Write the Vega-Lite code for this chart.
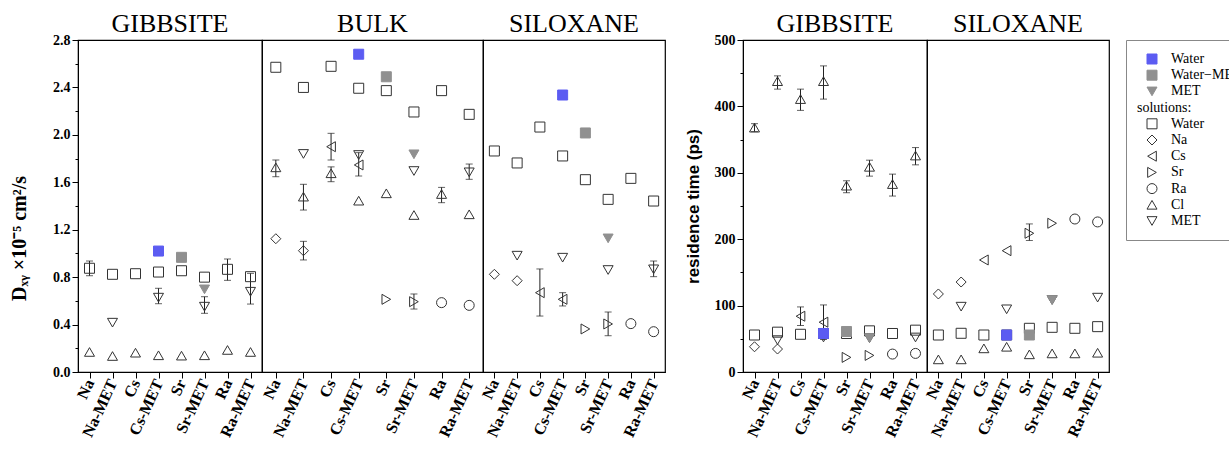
{
"$schema":"https://vega.github.io/schema/vega-lite/v6.json",
"padding":{"left":8,"top":10,"right":5,"bottom":5},
"datasets":{"pts":[
{"p":"LG","x":"Na","s":"Water","y":0.875,"lo":0.812,"hi":0.936},
{"p":"LG","x":"Na-MET","s":"Water","y":0.824},
{"p":"LG","x":"Cs","s":"Water","y":0.829},
{"p":"LG","x":"Cs-MET","s":"Water","y":0.843},
{"p":"LG","x":"Sr","s":"Water","y":0.854},
{"p":"LG","x":"Sr-MET","s":"Water","y":0.80},
{"p":"LG","x":"Ra","s":"Water","y":0.866,"lo":0.773,"hi":0.953},
{"p":"LG","x":"Ra-MET","s":"Water","y":0.804},
{"p":"LG","x":"Na-MET","s":"MET","y":0.416},
{"p":"LG","x":"Cs-MET","s":"MET","y":0.627,"lo":0.576,"hi":0.706},
{"p":"LG","x":"Sr-MET","s":"MET","y":0.551,"lo":0.495,"hi":0.635},
{"p":"LG","x":"Ra-MET","s":"MET","y":0.677,"lo":0.573,"hi":0.832},
{"p":"LG","x":"Na","s":"Cl","y":0.169},
{"p":"LG","x":"Na-MET","s":"Cl","y":0.135},
{"p":"LG","x":"Cs","s":"Cl","y":0.163},
{"p":"LG","x":"Cs-MET","s":"Cl","y":0.141},
{"p":"LG","x":"Sr","s":"Cl","y":0.138},
{"p":"LG","x":"Sr-MET","s":"Cl","y":0.141},
{"p":"LG","x":"Ra","s":"Cl","y":0.186},
{"p":"LG","x":"Ra-MET","s":"Cl","y":0.169},
{"p":"LB","x":"Na","s":"Water","y":2.57},
{"p":"LB","x":"Na-MET","s":"Water","y":2.40},
{"p":"LB","x":"Cs","s":"Water","y":2.578},
{"p":"LB","x":"Cs-MET","s":"Water","y":2.393},
{"p":"LB","x":"Sr","s":"Water","y":2.373},
{"p":"LB","x":"Sr-MET","s":"Water","y":2.193},
{"p":"LB","x":"Ra","s":"Water","y":2.373},
{"p":"LB","x":"Ra-MET","s":"Water","y":2.173},
{"p":"LB","x":"Na","s":"Na","y":1.124},
{"p":"LB","x":"Na-MET","s":"Na","y":1.023,"lo":0.945,"hi":1.102},
{"p":"LB","x":"Cs","s":"Cs","y":1.90,"lo":1.788,"hi":2.013},
{"p":"LB","x":"Cs-MET","s":"Cs","y":1.746,"lo":1.653,"hi":1.85},
{"p":"LB","x":"Sr","s":"Sr","y":0.613},
{"p":"LB","x":"Sr-MET","s":"Sr","y":0.593,"lo":0.531,"hi":0.658},
{"p":"LB","x":"Ra","s":"Ra","y":0.585},
{"p":"LB","x":"Ra-MET","s":"Ra","y":0.562},
{"p":"LB","x":"Na","s":"Cl","y":1.726,"lo":1.647,"hi":1.788},
{"p":"LB","x":"Na-MET","s":"Cl","y":1.479,"lo":1.366,"hi":1.583},
{"p":"LB","x":"Cs","s":"Cl","y":1.676,"lo":1.605,"hi":1.73},
{"p":"LB","x":"Cs-MET","s":"Cl","y":1.445},
{"p":"LB","x":"Sr","s":"Cl","y":1.507},
{"p":"LB","x":"Sr-MET","s":"Cl","y":1.324},
{"p":"LB","x":"Ra","s":"Cl","y":1.501,"lo":1.428,"hi":1.557},
{"p":"LB","x":"Ra-MET","s":"Cl","y":1.33},
{"p":"LB","x":"Na-MET","s":"MET","y":1.839},
{"p":"LB","x":"Cs-MET","s":"MET","y":1.83},
{"p":"LB","x":"Sr-MET","s":"MET","y":1.695},
{"p":"LB","x":"Ra-MET","s":"MET","y":1.684,"lo":1.625,"hi":1.754},
{"p":"LS","x":"Na","s":"Water","y":1.864},
{"p":"LS","x":"Na-MET","s":"Water","y":1.763},
{"p":"LS","x":"Cs","s":"Water","y":2.066},
{"p":"LS","x":"Cs-MET","s":"Water","y":1.822},
{"p":"LS","x":"Sr","s":"Water","y":1.622},
{"p":"LS","x":"Sr-MET","s":"Water","y":1.456},
{"p":"LS","x":"Ra","s":"Water","y":1.633},
{"p":"LS","x":"Ra-MET","s":"Water","y":1.442},
{"p":"LS","x":"Na","s":"Na","y":0.824},
{"p":"LS","x":"Na-MET","s":"Na","y":0.77},
{"p":"LS","x":"Cs","s":"Cs","y":0.669,"lo":0.472,"hi":0.869},
{"p":"LS","x":"Cs-MET","s":"Cs","y":0.613,"lo":0.557,"hi":0.669},
{"p":"LS","x":"Sr","s":"Sr","y":0.363},
{"p":"LS","x":"Sr-MET","s":"Sr","y":0.405,"lo":0.306,"hi":0.506},
{"p":"LS","x":"Ra","s":"Ra","y":0.408},
{"p":"LS","x":"Ra-MET","s":"Ra","y":0.34},
{"p":"LS","x":"Na-MET","s":"MET","y":0.981},
{"p":"LS","x":"Cs-MET","s":"MET","y":0.964},
{"p":"LS","x":"Sr-MET","s":"MET","y":0.86},
{"p":"LS","x":"Ra-MET","s":"MET","y":0.866,"lo":0.804,"hi":0.936},
{"p":"RG","x":"Na","s":"Cl","y":368,"lo":362,"hi":374},
{"p":"RG","x":"Na-MET","s":"Cl","y":438,"lo":426,"hi":446},
{"p":"RG","x":"Cs","s":"Cl","y":411,"lo":394,"hi":426},
{"p":"RG","x":"Cs-MET","s":"Cl","y":438,"lo":411,"hi":461},
{"p":"RG","x":"Sr","s":"Cl","y":280.6,"lo":270,"hi":288},
{"p":"RG","x":"Sr-MET","s":"Cl","y":309,"lo":295,"hi":319},
{"p":"RG","x":"Ra","s":"Cl","y":283,"lo":265,"hi":298},
{"p":"RG","x":"Ra-MET","s":"Cl","y":326,"lo":312,"hi":338},
{"p":"RG","x":"Na","s":"Water","y":55.7},
{"p":"RG","x":"Na-MET","s":"Water","y":60},
{"p":"RG","x":"Cs","s":"Water","y":56.8},
{"p":"RG","x":"Cs-MET","s":"Water","y":58},
{"p":"RG","x":"Sr","s":"Water","y":58},
{"p":"RG","x":"Sr-MET","s":"Water","y":62},
{"p":"RG","x":"Ra","s":"Water","y":58},
{"p":"RG","x":"Ra-MET","s":"Water","y":63},
{"p":"RG","x":"Na","s":"Na","y":38},
{"p":"RG","x":"Na-MET","s":"Na","y":34.6},
{"p":"RG","x":"Cs","s":"Cs","y":84,"lo":70,"hi":98},
{"p":"RG","x":"Cs-MET","s":"Cs","y":75,"lo":49,"hi":101},
{"p":"RG","x":"Sr","s":"Sr","y":22},
{"p":"RG","x":"Sr-MET","s":"Sr","y":25},
{"p":"RG","x":"Ra","s":"Ra","y":27},
{"p":"RG","x":"Ra-MET","s":"Ra","y":28},
{"p":"RG","x":"Na-MET","s":"MET","y":48},
{"p":"RG","x":"Cs-MET","s":"MET","y":52},
{"p":"RG","x":"Sr-MET","s":"MET","y":51},
{"p":"RG","x":"Ra-MET","s":"MET","y":52},
{"p":"RS","x":"Na","s":"Water","y":55.7},
{"p":"RS","x":"Na-MET","s":"Water","y":58.3},
{"p":"RS","x":"Cs","s":"Water","y":55.7},
{"p":"RS","x":"Cs-MET","s":"Water","y":55.7},
{"p":"RS","x":"Sr","s":"Water","y":65.8},
{"p":"RS","x":"Sr-MET","s":"Water","y":67.3},
{"p":"RS","x":"Ra","s":"Water","y":65.8},
{"p":"RS","x":"Ra-MET","s":"Water","y":68.3},
{"p":"RS","x":"Na","s":"Na","y":117.5},
{"p":"RS","x":"Na-MET","s":"Na","y":135.5},
{"p":"RS","x":"Cs","s":"Cs","y":168.7},
{"p":"RS","x":"Cs-MET","s":"Cs","y":182.7},
{"p":"RS","x":"Sr","s":"Sr","y":208.9,"lo":198,"hi":223},
{"p":"RS","x":"Sr-MET","s":"Sr","y":224},
{"p":"RS","x":"Ra","s":"Ra","y":230.4},
{"p":"RS","x":"Ra-MET","s":"Ra","y":226},
{"p":"RS","x":"Na","s":"Cl","y":19},
{"p":"RS","x":"Na-MET","s":"Cl","y":19},
{"p":"RS","x":"Cs","s":"Cl","y":35.6},
{"p":"RS","x":"Cs-MET","s":"Cl","y":38},
{"p":"RS","x":"Sr","s":"Cl","y":26.6},
{"p":"RS","x":"Sr-MET","s":"Cl","y":28},
{"p":"RS","x":"Ra","s":"Cl","y":28},
{"p":"RS","x":"Ra-MET","s":"Cl","y":29},
{"p":"RS","x":"Na-MET","s":"MET","y":98.4},
{"p":"RS","x":"Cs-MET","s":"MET","y":94.4},
{"p":"RS","x":"Sr-MET","s":"MET","y":108.4},
{"p":"RS","x":"Ra-MET","s":"MET","y":112},
{"p":"LG","x":"Cs-MET","s":"pWater","y":1.02},
{"p":"LG","x":"Sr","s":"pWaterMET","y":0.967},
{"p":"LG","x":"Sr-MET","s":"pMET","y":0.697},
{"p":"LB","x":"Cs-MET","s":"pWater","y":2.68},
{"p":"LB","x":"Sr","s":"pWaterMET","y":2.49},
{"p":"LB","x":"Sr-MET","s":"pMET","y":1.836},
{"p":"LS","x":"Cs-MET","s":"pWater","y":2.336},
{"p":"LS","x":"Sr","s":"pWaterMET","y":2.016},
{"p":"LS","x":"Sr-MET","s":"pMET","y":1.127},
{"p":"RG","x":"Cs-MET","s":"pWater","y":58},
{"p":"RG","x":"Sr","s":"pWaterMET","y":61},
{"p":"RG","x":"Sr-MET","s":"pMET","y":51},
{"p":"RS","x":"Cs-MET","s":"pWater","y":55.7},
{"p":"RS","x":"Sr","s":"pWaterMET","y":55.7},
{"p":"RS","x":"Sr-MET","s":"pMET","y":108.4}
]},
"spacing":17,
"hconcat":[
{"spacing":0,"bounds":"flush","hconcat":[
{"width":184,"height":332,"title":{"text":"GIBBSITE","offset":-4},"data":{"name":"pts"},"transform":[{"filter":"datum.p=='LG'"}],
"layer":[
{"transform":[{"filter":"isValid(datum.lo)"}],"mark":{"type":"errorbar","ticks":{"size":7,"color":"#222"},"rule":{"color":"#222","strokeWidth":1}},
"encoding":{"x":{"field":"x","type":"nominal","title":null,"scale":{"type":"point","padding":0.5,"domain":["Na","Na-MET","Cs","Cs-MET","Sr","Sr-MET","Ra","Ra-MET"]}},
"y":{"field":"lo","type":"quantitative","scale":{"domain":[0,2.8],"nice":false},"axis":{"values":[0,0.2,0.4,0.6,0.8,1,1.2,1.4,1.6,1.8,2,2.2,2.4,2.6,2.8],"labelExpr":"round(datum.value*10)%4==0?format(datum.value,'.1f'):''","tickSize":{"condition":{"test":"round(datum.value*10)%4==0","value":6},"value":3},"title":"Dₓᵧ ×10⁻⁵ cm²/s","titleFont":"Liberation Serif","titleFontSize":20,"titlePadding":23,"titleY":198}},"y2":{"field":"hi"}}},
{"mark":{"type":"point","opacity":1,"strokeWidth":1,"size":100},
"encoding":{"x":{"field":"x","type":"nominal","title":null,"scale":{"type":"point","padding":0.5,"domain":["Na","Na-MET","Cs","Cs-MET","Sr","Sr-MET","Ra","Ra-MET"]}},
"y":{"field":"y","type":"quantitative","scale":{"domain":[0,2.8],"nice":false},"axis":{"values":[0,0.2,0.4,0.6,0.8,1,1.2,1.4,1.6,1.8,2,2.2,2.4,2.6,2.8],"labelExpr":"round(datum.value*10)%4==0?format(datum.value,'.1f'):''","tickSize":{"condition":{"test":"round(datum.value*10)%4==0","value":6},"value":3},"title":"Dₓᵧ ×10⁻⁵ cm²/s","titleFont":"Liberation Serif","titleFontSize":20,"titlePadding":23,"titleY":198}},
"shape":{"field":"s","type":"nominal","scale":{"domain":["pWater","pWaterMET","pMET","solutions:","Water","Na","Cs","Sr","Ra","Cl","MET"],"range":["square","square","triangle-down","circle","square","diamond","triangle-left","triangle-right","circle","triangle-up","triangle-down"]},"legend":{"title":null,"labelExpr":"datum.label=='pWater'?'Water':datum.label=='pWaterMET'?'Water−MET':datum.label=='pMET'?'MET':datum.label","labelOffset":{"expr":"datum.value=='solutions:'?-22:12"}}},
"fill":{"field":"s","type":"nominal","scale":{"domain":["pWater","pWaterMET","pMET","solutions:","Water","Na","Cs","Sr","Ra","Cl","MET"],"range":["#5c5cf2","#909090","#909090","transparent","transparent","transparent","transparent","transparent","transparent","transparent","transparent"]},"legend":{"title":null,"labelExpr":"datum.label=='pWater'?'Water':datum.label=='pWaterMET'?'Water−MET':datum.label=='pMET'?'MET':datum.label","labelOffset":{"expr":"datum.value=='solutions:'?-22:12"}}},
"stroke":{"field":"s","type":"nominal","scale":{"domain":["pWater","pWaterMET","pMET","solutions:","Water","Na","Cs","Sr","Ra","Cl","MET"],"range":["#5c5cf2","#909090","#909090","transparent","#333333","#333333","#333333","#333333","#333333","#333333","#333333"]},"legend":{"title":null,"labelExpr":"datum.label=='pWater'?'Water':datum.label=='pWaterMET'?'Water−MET':datum.label=='pMET'?'MET':datum.label","labelOffset":{"expr":"datum.value=='solutions:'?-22:12"}}}}}
]},
{"width":221,"height":332,"title":{"text":"BULK","offset":3},"data":{"name":"pts"},"transform":[{"filter":"datum.p=='LB'"}],
"layer":[
{"transform":[{"filter":"isValid(datum.lo)"}],"mark":{"type":"errorbar","ticks":{"size":7,"color":"#222"},"rule":{"color":"#222","strokeWidth":1}},
"encoding":{"x":{"field":"x","type":"nominal","title":null,"scale":{"type":"point","padding":0.5,"domain":["Na","Na-MET","Cs","Cs-MET","Sr","Sr-MET","Ra","Ra-MET"]}},
"y":{"field":"lo","type":"quantitative","scale":{"domain":[0,2.8],"nice":false},"axis":null},"y2":{"field":"hi"}}},
{"mark":{"type":"point","opacity":1,"strokeWidth":1,"size":100},
"encoding":{"x":{"field":"x","type":"nominal","title":null,"scale":{"type":"point","padding":0.5,"domain":["Na","Na-MET","Cs","Cs-MET","Sr","Sr-MET","Ra","Ra-MET"]}},
"y":{"field":"y","type":"quantitative","scale":{"domain":[0,2.8],"nice":false},"axis":null},
"shape":{"field":"s","type":"nominal","scale":{"domain":["pWater","pWaterMET","pMET","solutions:","Water","Na","Cs","Sr","Ra","Cl","MET"],"range":["square","square","triangle-down","circle","square","diamond","triangle-left","triangle-right","circle","triangle-up","triangle-down"]},"legend":{"title":null,"labelExpr":"datum.label=='pWater'?'Water':datum.label=='pWaterMET'?'Water−MET':datum.label=='pMET'?'MET':datum.label","labelOffset":{"expr":"datum.value=='solutions:'?-22:12"}}},
"fill":{"field":"s","type":"nominal","scale":{"domain":["pWater","pWaterMET","pMET","solutions:","Water","Na","Cs","Sr","Ra","Cl","MET"],"range":["#5c5cf2","#909090","#909090","transparent","transparent","transparent","transparent","transparent","transparent","transparent","transparent"]},"legend":{"title":null,"labelExpr":"datum.label=='pWater'?'Water':datum.label=='pWaterMET'?'Water−MET':datum.label=='pMET'?'MET':datum.label","labelOffset":{"expr":"datum.value=='solutions:'?-22:12"}}},
"stroke":{"field":"s","type":"nominal","scale":{"domain":["pWater","pWaterMET","pMET","solutions:","Water","Na","Cs","Sr","Ra","Cl","MET"],"range":["#5c5cf2","#909090","#909090","transparent","#333333","#333333","#333333","#333333","#333333","#333333","#333333"]},"legend":{"title":null,"labelExpr":"datum.label=='pWater'?'Water':datum.label=='pWaterMET'?'Water−MET':datum.label=='pMET'?'MET':datum.label","labelOffset":{"expr":"datum.value=='solutions:'?-22:12"}}}}}
]},
{"width":182,"height":332,"title":{"text":"SILOXANE","offset":3},"data":{"name":"pts"},"transform":[{"filter":"datum.p=='LS'"}],
"layer":[
{"transform":[{"filter":"isValid(datum.lo)"}],"mark":{"type":"errorbar","ticks":{"size":7,"color":"#222"},"rule":{"color":"#222","strokeWidth":1}},
"encoding":{"x":{"field":"x","type":"nominal","title":null,"scale":{"type":"point","padding":0.5,"domain":["Na","Na-MET","Cs","Cs-MET","Sr","Sr-MET","Ra","Ra-MET"]}},
"y":{"field":"lo","type":"quantitative","scale":{"domain":[0,2.8],"nice":false},"axis":null},"y2":{"field":"hi"}}},
{"mark":{"type":"point","opacity":1,"strokeWidth":1,"size":100},
"encoding":{"x":{"field":"x","type":"nominal","title":null,"scale":{"type":"point","padding":0.5,"domain":["Na","Na-MET","Cs","Cs-MET","Sr","Sr-MET","Ra","Ra-MET"]}},
"y":{"field":"y","type":"quantitative","scale":{"domain":[0,2.8],"nice":false},"axis":null},
"shape":{"field":"s","type":"nominal","scale":{"domain":["pWater","pWaterMET","pMET","solutions:","Water","Na","Cs","Sr","Ra","Cl","MET"],"range":["square","square","triangle-down","circle","square","diamond","triangle-left","triangle-right","circle","triangle-up","triangle-down"]},"legend":{"title":null,"labelExpr":"datum.label=='pWater'?'Water':datum.label=='pWaterMET'?'Water−MET':datum.label=='pMET'?'MET':datum.label","labelOffset":{"expr":"datum.value=='solutions:'?-22:12"}}},
"fill":{"field":"s","type":"nominal","scale":{"domain":["pWater","pWaterMET","pMET","solutions:","Water","Na","Cs","Sr","Ra","Cl","MET"],"range":["#5c5cf2","#909090","#909090","transparent","transparent","transparent","transparent","transparent","transparent","transparent","transparent"]},"legend":{"title":null,"labelExpr":"datum.label=='pWater'?'Water':datum.label=='pWaterMET'?'Water−MET':datum.label=='pMET'?'MET':datum.label","labelOffset":{"expr":"datum.value=='solutions:'?-22:12"}}},
"stroke":{"field":"s","type":"nominal","scale":{"domain":["pWater","pWaterMET","pMET","solutions:","Water","Na","Cs","Sr","Ra","Cl","MET"],"range":["#5c5cf2","#909090","#909090","transparent","#333333","#333333","#333333","#333333","#333333","#333333","#333333"]},"legend":{"title":null,"labelExpr":"datum.label=='pWater'?'Water':datum.label=='pWaterMET'?'Water−MET':datum.label=='pMET'?'MET':datum.label","labelOffset":{"expr":"datum.value=='solutions:'?-22:12"}}}}}
]}
]},
{"spacing":0,"bounds":"flush","hconcat":[
{"width":184,"height":332,"title":{"text":"GIBBSITE","offset":-4},"data":{"name":"pts"},"transform":[{"filter":"datum.p=='RG'"}],
"layer":[
{"transform":[{"filter":"isValid(datum.lo)"}],"mark":{"type":"errorbar","ticks":{"size":7,"color":"#222"},"rule":{"color":"#222","strokeWidth":1}},
"encoding":{"x":{"field":"x","type":"nominal","title":null,"scale":{"type":"point","padding":0.5,"domain":["Na","Na-MET","Cs","Cs-MET","Sr","Sr-MET","Ra","Ra-MET"]}},
"y":{"field":"lo","type":"quantitative","scale":{"domain":[0,500],"nice":false},"axis":{"values":[0,50,100,150,200,250,300,350,400,450,500],"labelExpr":"datum.value%100==0?format(datum.value,'d'):''","tickSize":{"condition":{"test":"datum.value%100==0","value":6},"value":3},"title":"residence time (ps)","titleFont":"Liberation Sans","titleFontSize":17,"titlePadding":12}},"y2":{"field":"hi"}}},
{"mark":{"type":"point","opacity":1,"strokeWidth":1,"size":100},
"encoding":{"x":{"field":"x","type":"nominal","title":null,"scale":{"type":"point","padding":0.5,"domain":["Na","Na-MET","Cs","Cs-MET","Sr","Sr-MET","Ra","Ra-MET"]}},
"y":{"field":"y","type":"quantitative","scale":{"domain":[0,500],"nice":false},"axis":{"values":[0,50,100,150,200,250,300,350,400,450,500],"labelExpr":"datum.value%100==0?format(datum.value,'d'):''","tickSize":{"condition":{"test":"datum.value%100==0","value":6},"value":3},"title":"residence time (ps)","titleFont":"Liberation Sans","titleFontSize":17,"titlePadding":12}},
"shape":{"field":"s","type":"nominal","scale":{"domain":["pWater","pWaterMET","pMET","solutions:","Water","Na","Cs","Sr","Ra","Cl","MET"],"range":["square","square","triangle-down","circle","square","diamond","triangle-left","triangle-right","circle","triangle-up","triangle-down"]},"legend":{"title":null,"labelExpr":"datum.label=='pWater'?'Water':datum.label=='pWaterMET'?'Water−MET':datum.label=='pMET'?'MET':datum.label","labelOffset":{"expr":"datum.value=='solutions:'?-22:12"}}},
"fill":{"field":"s","type":"nominal","scale":{"domain":["pWater","pWaterMET","pMET","solutions:","Water","Na","Cs","Sr","Ra","Cl","MET"],"range":["#5c5cf2","#909090","#909090","transparent","transparent","transparent","transparent","transparent","transparent","transparent","transparent"]},"legend":{"title":null,"labelExpr":"datum.label=='pWater'?'Water':datum.label=='pWaterMET'?'Water−MET':datum.label=='pMET'?'MET':datum.label","labelOffset":{"expr":"datum.value=='solutions:'?-22:12"}}},
"stroke":{"field":"s","type":"nominal","scale":{"domain":["pWater","pWaterMET","pMET","solutions:","Water","Na","Cs","Sr","Ra","Cl","MET"],"range":["#5c5cf2","#909090","#909090","transparent","#333333","#333333","#333333","#333333","#333333","#333333","#333333"]},"legend":{"title":null,"labelExpr":"datum.label=='pWater'?'Water':datum.label=='pWaterMET'?'Water−MET':datum.label=='pMET'?'MET':datum.label","labelOffset":{"expr":"datum.value=='solutions:'?-22:12"}}}}}
]},
{"width":182,"height":332,"title":{"text":"SILOXANE","offset":3},"data":{"name":"pts"},"transform":[{"filter":"datum.p=='RS'"}],
"layer":[
{"transform":[{"filter":"isValid(datum.lo)"}],"mark":{"type":"errorbar","ticks":{"size":7,"color":"#222"},"rule":{"color":"#222","strokeWidth":1}},
"encoding":{"x":{"field":"x","type":"nominal","title":null,"scale":{"type":"point","padding":0.5,"domain":["Na","Na-MET","Cs","Cs-MET","Sr","Sr-MET","Ra","Ra-MET"]}},
"y":{"field":"lo","type":"quantitative","scale":{"domain":[0,500],"nice":false},"axis":null},"y2":{"field":"hi"}}},
{"mark":{"type":"point","opacity":1,"strokeWidth":1,"size":100},
"encoding":{"x":{"field":"x","type":"nominal","title":null,"scale":{"type":"point","padding":0.5,"domain":["Na","Na-MET","Cs","Cs-MET","Sr","Sr-MET","Ra","Ra-MET"]}},
"y":{"field":"y","type":"quantitative","scale":{"domain":[0,500],"nice":false},"axis":null},
"shape":{"field":"s","type":"nominal","scale":{"domain":["pWater","pWaterMET","pMET","solutions:","Water","Na","Cs","Sr","Ra","Cl","MET"],"range":["square","square","triangle-down","circle","square","diamond","triangle-left","triangle-right","circle","triangle-up","triangle-down"]},"legend":{"title":null,"labelExpr":"datum.label=='pWater'?'Water':datum.label=='pWaterMET'?'Water−MET':datum.label=='pMET'?'MET':datum.label","labelOffset":{"expr":"datum.value=='solutions:'?-22:12"}}},
"fill":{"field":"s","type":"nominal","scale":{"domain":["pWater","pWaterMET","pMET","solutions:","Water","Na","Cs","Sr","Ra","Cl","MET"],"range":["#5c5cf2","#909090","#909090","transparent","transparent","transparent","transparent","transparent","transparent","transparent","transparent"]},"legend":{"title":null,"labelExpr":"datum.label=='pWater'?'Water':datum.label=='pWaterMET'?'Water−MET':datum.label=='pMET'?'MET':datum.label","labelOffset":{"expr":"datum.value=='solutions:'?-22:12"}}},
"stroke":{"field":"s","type":"nominal","scale":{"domain":["pWater","pWaterMET","pMET","solutions:","Water","Na","Cs","Sr","Ra","Cl","MET"],"range":["#5c5cf2","#909090","#909090","transparent","#333333","#333333","#333333","#333333","#333333","#333333","#333333"]},"legend":{"title":null,"labelExpr":"datum.label=='pWater'?'Water':datum.label=='pWaterMET'?'Water−MET':datum.label=='pMET'?'MET':datum.label","labelOffset":{"expr":"datum.value=='solutions:'?-22:12"}}}}}
]}
]}
],
"config":{
"view":{"stroke":"black","strokeWidth":1.2},
"title":{"font":"Liberation Serif","fontSize":26,"fontWeight":"normal","color":"black","anchor":"middle"},
"axis":{"labelFont":"Liberation Serif","labelFontWeight":"bold","labelFontSize":14,"labelColor":"black","tickColor":"black","domainColor":"black","grid":false,"titleColor":"black","titleFontWeight":"bold","labelPadding":2},
"axisX":{"labelAngle":-65,"labelAlign":"right","labelBaseline":"middle","tickSize":6,"labelFontSize":16},
"legend":{"orient":"right","offset":16,"strokeColor":"#888888","padding":12,"labelFont":"Liberation Serif","labelFontSize":14,"labelColor":"black","symbolSize":100,"symbolStrokeWidth":1,"symbolOffset":7,"rowPadding":2.2}
}
}
